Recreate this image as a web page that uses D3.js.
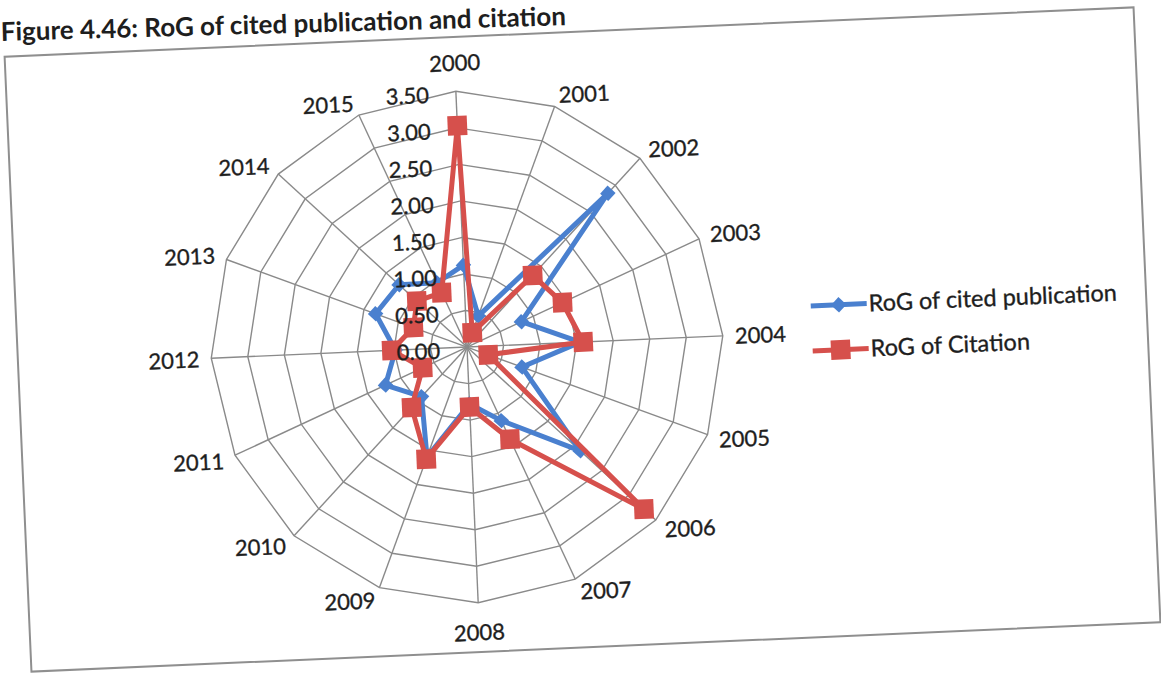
<!DOCTYPE html>
<html>
<head>
<meta charset="utf-8">
<script src="https://cdn.jsdelivr.net/npm/d3@7"></script>
<style>
  body { margin: 0; background: #ffffff; }
  svg { display: block; }
  text { font-family: Lato, "Open Sans", "Liberation Sans", sans-serif; fill: #1e1e1e; }
  .soft { stroke: #1e1e1e; stroke-width: 0.35; }
</style>
</head>
<body>
<svg id="chart" width="1161" height="674"></svg>
<script>
// Years on the radar spokes, clockwise from the top
const years = ["2000", "2001", "2002", "2003", "2004", "2005", "2006", "2007",
               "2008", "2009", "2010", "2011", "2012", "2013", "2014", "2015"];

// Rate of growth of cited publications
const citedPublication = [1.12, 0.45, 2.85, 0.82, 1.55, 0.80, 2.10, 1.11,
                          0.78, 1.60, 0.92, 1.23, 0.98, 1.33, 1.26, 0.97];

// Rate of growth of citations
const citation = [3.03, 0.21, 1.33, 1.44, 1.59, 0.31, 3.28, 1.39,
                  0.82, 1.63, 1.12, 0.67, 1.03, 0.78, 0.93, 0.82];

// Radial axis ticks
const tickValues = [0, 0.5, 1, 1.5, 2, 2.5, 3, 3.5];

const seriesNames = ["RoG of cited publication", "RoG of Citation"];
const seriesColors = ["#4a80cf", "#d6504c"];

const title = "Figure 4.46: RoG of cited publication and citation";

const svg = d3.select("#chart");

// Title line above the framed chart
svg.append("text")
  .attr("x", 1)
  .attr("y", 41)
  .attr("transform", "rotate(-1.6, 1, 41)")
  .attr("font-size", 26)
  .attr("font-weight", 700)
  .text(title);

// The framed chart area sits slightly tilted on the page
const frame = { x: 17.5, y: 31.75, w: 1130, h: 615.5 };
const page = svg.append("g")
  .attr("transform", `rotate(-2.5, ${frame.x + frame.w / 2}, ${frame.y + frame.h / 2})`);

page.append("rect")
  .attr("x", frame.x).attr("y", frame.y)
  .attr("width", frame.w).attr("height", frame.h)
  .attr("fill", "#ffffff")
  .attr("stroke", "#8f8f8f")
  .attr("stroke-width", 2);

const cx = 466.8, cy = 342, R = 256;
const r = d3.scaleLinear().domain([0, 3.5]).range([0, R]);
const angle = d3.scaleLinear().domain([0, years.length]).range([0, 2 * Math.PI]);

const radar = page.append("g").attr("transform", `translate(${cx},${cy})`);

// Polygonal grid rings
const ringLine = d3.lineRadial()
  .angle((d, i) => angle(i))
  .radius(d => r(d))
  .curve(d3.curveLinearClosed);

radar.append("g")
  .selectAll("path")
  .data(tickValues.slice(1))
  .join("path")
  .attr("d", v => ringLine(years.map(() => v)))
  .attr("fill", "none")
  .attr("stroke", "#8a8a8a")
  .attr("stroke-width", 1.4);

// Spokes
radar.append("g")
  .selectAll("line")
  .data(years)
  .join("line")
  .attr("x1", 0).attr("y1", 0)
  .attr("x2", (d, i) => Math.sin(angle(i)) * r(3.5))
  .attr("y2", (d, i) => -Math.cos(angle(i)) * r(3.5))
  .attr("stroke", "#8a8a8a")
  .attr("stroke-width", 1.4);

// Year labels just beyond each outer vertex
radar.append("g")
  .selectAll("text")
  .data(years)
  .join("text")
  .attr("class", "soft")
  .each(function (d, i) {
    const s = Math.sin(angle(i)), c = Math.cos(angle(i));
    const vx = s * r(3.5), vy = -c * r(3.5);
    const sel = d3.select(this);
    if (Math.abs(s) < 0.01) {
      sel.attr("x", vx).attr("y", vy - c * 29).attr("text-anchor", "middle");
    } else {
      sel.attr("x", vx + s * 12).attr("y", vy - c * 13)
        .attr("text-anchor", s > 0 ? "start" : "end");
    }
  })
  .attr("dominant-baseline", "central")
  .attr("font-size", 22)
  .text(d => d);

// Series polygons and markers
const series = [citedPublication, citation];
const dataLine = d3.lineRadial()
  .angle((d, i) => angle(i))
  .radius(d => r(d))
  .curve(d3.curveLinearClosed);

const diamond = d3.symbol().type(d3.symbolSquare).size(120);
const square = d3.symbol().type(d3.symbolSquare).size(380);

series.forEach((values, k) => {
  const g = radar.append("g");
  g.append("path")
    .attr("d", dataLine(values))
    .attr("fill", "none")
    .attr("stroke", seriesColors[k])
    .attr("stroke-width", 5)
    .attr("stroke-linejoin", "round");
  g.selectAll("path.marker")
    .data(values)
    .join("path")
    .attr("class", "marker")
    .attr("d", k === 0 ? diamond() : square())
    .attr("transform", (v, i) => {
      const x = Math.sin(angle(i)) * r(v), y = -Math.cos(angle(i)) * r(v);
      return `translate(${x},${y})` + (k === 0 ? " rotate(45)" : "");
    })
    .attr("fill", seriesColors[k]);
});

// Radial tick labels along the first spoke
radar.append("g")
  .selectAll("text")
  .data(tickValues)
  .join("text")
  .attr("class", "soft")
  .attr("x", -27)
  .attr("y", v => -r(v) + 2)
  .attr("text-anchor", "end")
  .attr("dominant-baseline", "central")
  .attr("font-size", 22)
  .text(v => d3.format(".2f")(v));

// Legend
const legend = page.append("g").attr("transform", "translate(812, 316)");
seriesNames.forEach((name, k) => {
  const row = legend.append("g").attr("transform", `translate(0, ${k * 45})`);
  row.append("line")
    .attr("x1", 0).attr("x2", 56)
    .attr("y1", 0).attr("y2", 0)
    .attr("stroke", seriesColors[k])
    .attr("stroke-width", 5);
  row.append("path")
    .attr("d", k === 0 ? diamond() : square())
    .attr("transform", `translate(28,0)` + (k === 0 ? " rotate(45)" : ""))
    .attr("fill", seriesColors[k]);
  row.append("text")
    .attr("class", "soft")
    .attr("x", 58)
    .attr("y", -1)
    .attr("dominant-baseline", "central")
    .attr("font-size", 23.5)
    .text(name);
});
</script>
</body>
</html>
